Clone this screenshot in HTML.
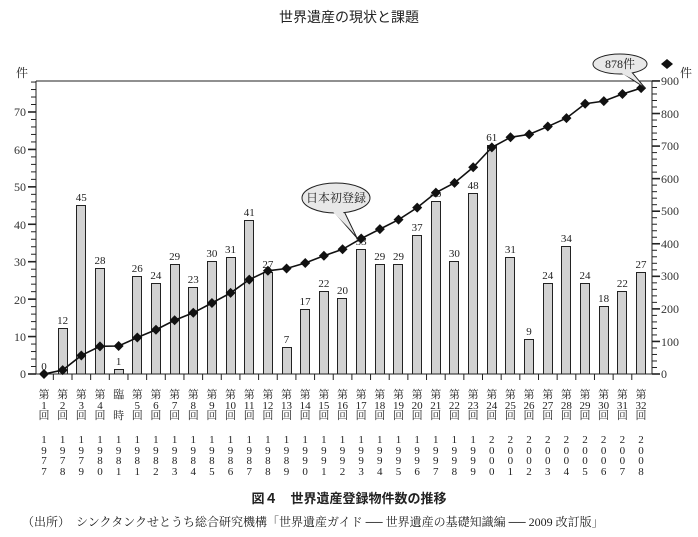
<!DOCTYPE html>
<html><head><meta charset="utf-8"><style>
body{margin:0;background:#fff;}
#w{position:relative;width:698px;height:537px;overflow:hidden;font-family:"Liberation Serif","Noto Serif CJK SC",serif;color:#222;}
.t{position:absolute;white-space:nowrap;}
.row{position:absolute;left:34.67px;display:flex;}
.row div{width:18.66px;text-align:center;font-size:11px;line-height:10.5px;}
.bars{position:absolute;left:34.67px;top:0;height:374px;display:flex;}
.bars div{width:18.66px;display:flex;flex-direction:column;align-items:center;justify-content:flex-end;font-size:11px;line-height:13px;}
.bars i{display:block;width:8px;background:#d2d2d2;border:1px solid #222;border-bottom:none;}
</style></head><body><div id="w">
<div class="t" style="left:0;width:698px;text-align:center;top:7px;font-size:14px;font-family:'Liberation Sans','Noto Sans CJK JP',sans-serif;">世界遺産の現状と課題</div>
<div class="t" style="left:16px;top:64px;font-size:12px;">件</div>
<div class="t" style="left:680px;top:64px;font-size:12px;">件</div>
<svg id="s" width="698" height="537" style="position:absolute;left:0;top:0" font-family="Liberation Serif,Noto Serif CJK SC,serif" font-size="12" fill="#333">
<text x="26" y="116" text-anchor="end">70</text><text x="26" y="154" text-anchor="end">60</text><text x="26" y="191" text-anchor="end">50</text><text x="26" y="229" text-anchor="end">40</text><text x="26" y="266" text-anchor="end">30</text><text x="26" y="304" text-anchor="end">20</text><text x="26" y="341" text-anchor="end">10</text><text x="26" y="378" text-anchor="end">0</text>
<text x="661" y="85">900</text><text x="661" y="118">800</text><text x="661" y="150">700</text><text x="661" y="183">600</text><text x="661" y="215">500</text><text x="661" y="248">400</text><text x="661" y="280">300</text><text x="661" y="313">200</text><text x="661" y="346">100</text><text x="661" y="378">0</text>
<path d="M661 64 l6 -5 6 5 -6 5z" fill="#111"/>
</svg>
<div class="row" style="top:390px">
<div>第<br>1<br>回</div><div>第<br>2<br>回</div><div>第<br>3<br>回</div><div>第<br>4<br>回</div><div>臨<br>&nbsp;<br>時</div><div>第<br>5<br>回</div><div>第<br>6<br>回</div><div>第<br>7<br>回</div><div>第<br>8<br>回</div><div>第<br>9<br>回</div><div>第<br>10<br>回</div><div>第<br>11<br>回</div><div>第<br>12<br>回</div><div>第<br>13<br>回</div><div>第<br>14<br>回</div><div>第<br>15<br>回</div><div>第<br>16<br>回</div><div>第<br>17<br>回</div><div>第<br>18<br>回</div><div>第<br>19<br>回</div><div>第<br>20<br>回</div><div>第<br>21<br>回</div><div>第<br>22<br>回</div><div>第<br>23<br>回</div><div>第<br>24<br>回</div><div>第<br>25<br>回</div><div>第<br>26<br>回</div><div>第<br>27<br>回</div><div>第<br>28<br>回</div><div>第<br>29<br>回</div><div>第<br>30<br>回</div><div>第<br>31<br>回</div><div>第<br>32<br>回</div>
</div>
<div class="row" style="top:435px">
<div>1<br>9<br>7<br>7</div><div>1<br>9<br>7<br>8</div><div>1<br>9<br>7<br>9</div><div>1<br>9<br>8<br>0</div><div>1<br>9<br>8<br>1</div><div>1<br>9<br>8<br>1</div><div>1<br>9<br>8<br>2</div><div>1<br>9<br>8<br>3</div><div>1<br>9<br>8<br>4</div><div>1<br>9<br>8<br>5</div><div>1<br>9<br>8<br>6</div><div>1<br>9<br>8<br>7</div><div>1<br>9<br>8<br>8</div><div>1<br>9<br>8<br>9</div><div>1<br>9<br>9<br>0</div><div>1<br>9<br>9<br>1</div><div>1<br>9<br>9<br>2</div><div>1<br>9<br>9<br>3</div><div>1<br>9<br>9<br>4</div><div>1<br>9<br>9<br>5</div><div>1<br>9<br>9<br>6</div><div>1<br>9<br>9<br>7</div><div>1<br>9<br>9<br>8</div><div>1<br>9<br>9<br>9</div><div>2<br>0<br>0<br>0</div><div>2<br>0<br>0<br>1</div><div>2<br>0<br>0<br>2</div><div>2<br>0<br>0<br>3</div><div>2<br>0<br>0<br>4</div><div>2<br>0<br>0<br>5</div><div>2<br>0<br>0<br>6</div><div>2<br>0<br>0<br>7</div><div>2<br>0<br>0<br>8</div>
</div>
<div class="bars" id="b2">
<div><span>0</span><i style="height:0;border:none"></i></div><div><span>12</span><i></i></div><div><span>45</span><i></i></div><div><span>28</span><i></i></div><div><span>1</span><i></i></div><div><span>26</span><i></i></div><div><span>24</span><i></i></div><div><span>29</span><i></i></div><div><span>23</span><i></i></div><div><span>30</span><i></i></div><div><span>31</span><i></i></div><div><span>41</span><i></i></div><div><span>27</span><i></i></div><div><span>7</span><i></i></div><div><span>17</span><i></i></div><div><span>22</span><i></i></div><div><span>20</span><i></i></div><div><span>33</span><i></i></div><div><span>29</span><i></i></div><div><span>29</span><i></i></div><div><span>37</span><i></i></div><div><span>46</span><i></i></div><div><span>30</span><i></i></div><div><span>48</span><i></i></div><div><span>61</span><i></i></div><div><span>31</span><i></i></div><div><span>9</span><i></i></div><div><span>24</span><i></i></div><div><span>34</span><i></i></div><div><span>24</span><i></i></div><div><span>18</span><i></i></div><div><span>22</span><i></i></div><div><span>27</span><i></i></div>
</div>
<svg id="s2" width="698" height="537" style="position:absolute;left:0;top:0" font-family="Liberation Serif,Noto Serif CJK SC,serif" font-size="12">
<g id="g"></g>
<path d="M330 207 L357 238 L342 207z" fill="#e8e8e8" stroke="#222" stroke-width="1"/>
<ellipse cx="336" cy="198" rx="34" ry="15" fill="#e8e8e8" stroke="#222"/>
<path d="M331 210 L342 210 L354 233z" fill="#e8e8e8"/>
<text x="336" y="202" text-anchor="middle" fill="#222">日本初登録</text>
<path d="M618 70 L645 88 L630 70z" fill="#e8e8e8" stroke="#222"/>
<ellipse cx="620" cy="64" rx="27" ry="10" fill="#e8e8e8" stroke="#222"/>
<path d="M619 72 L631 72 L640 83z" fill="#e8e8e8"/>
<text x="620" y="68" text-anchor="middle" fill="#222">878件</text>
</svg>
<div class="t" style="left:0;width:698px;text-align:center;top:488px;font-size:13px;font-weight:bold;font-family:'Liberation Sans','Noto Sans CJK JP',sans-serif;">図４　世界遺産登録物件数の推移</div>
<div class="t" style="left:22px;top:513px;font-size:12px;">（出所）　シンクタンクせとうち総合研究機構「世界遺産ガイド ── 世界遺産の基礎知識編 ── 2009 改訂版」</div>
</div>
<script>
var b=document.querySelectorAll('#b2 i'),vals=[0,12,45,28,1,26,24,29,23,30,31,41,27,7,17,22,20,33,29,29,37,46,30,48,61,31,9,24,34,24,18,22,27];
b.forEach(function(e,i){if(i)e.style.height=(vals[i]*3.743)+'px';});
var cum=[0,12,57,85,86,112,136,165,188,218,249,290,317,324,341,363,383,416,445,474,511,557,587,635,696,727,736,760,786,830,838,860,878];
var g=document.getElementById('g'),h='';
h+='<path d="M36 81 H652 M36 81 V374 M652 81 V374 M36 374 H652" stroke="#222" fill="none"/>';
for(var v=0;v<=78;v+=2){var y=374-v*3.743;h+='<line x1="'+(v%10?31:28)+'" x2="36" y1="'+y+'" y2="'+y+'" stroke="#222" stroke-width="'+(v%10?1:1.6)+'"/>';}
for(var v=0;v<=900;v+=20){var y=374-v*0.3256;h+='<line x1="652" x2="'+(v%100?657:660)+'" y1="'+y+'" y2="'+y+'" stroke="#222" stroke-width="'+(v%100?1:1.6)+'"/>';}
for(var i=0;i<32;i++){var x=44+(i+0.5)*18.66;h+='<line x1="'+x+'" x2="'+x+'" y1="374" y2="380" stroke="#222"/>';}
var pts=cum.map(function(c,i){return [44+i*18.66,374-c*0.3256];});
h+='<polyline points="'+pts.map(function(p){return p.join(',')}).join(' ')+'" fill="none" stroke="#111" stroke-width="1.6"/>';
pts.forEach(function(p){h+='<path d="M'+(p[0]-5)+' '+p[1]+' l5 -5 5 5 -5 5z" fill="#111"/>';});
g.innerHTML=h;
</script>
</body></html>
